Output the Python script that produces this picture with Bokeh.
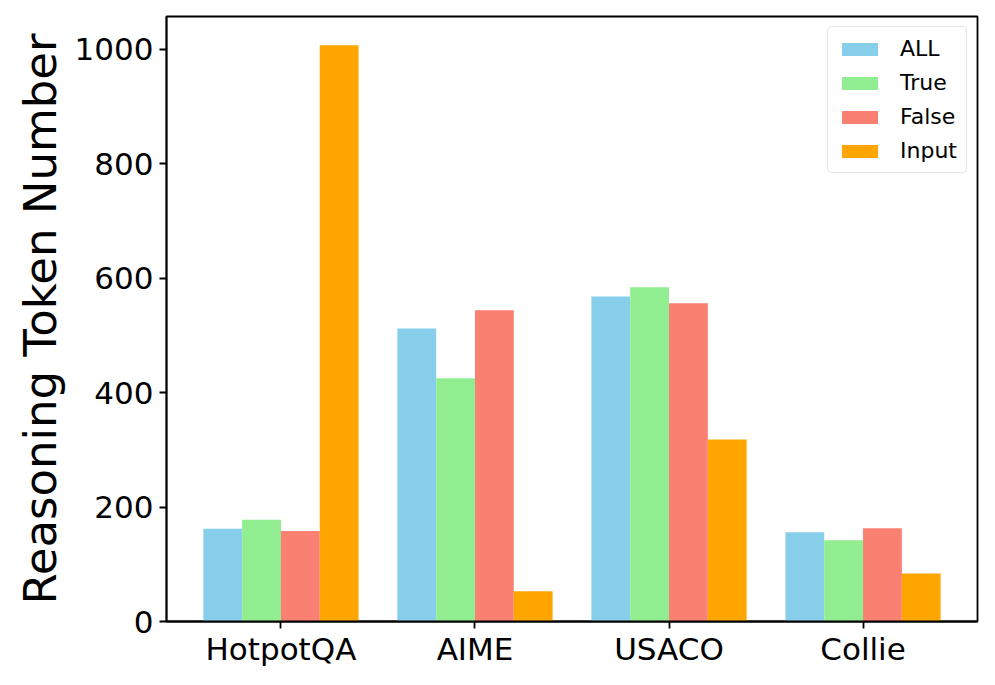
from bokeh.plotting import figure
from bokeh.models import Range1d, FixedTicker, Legend, LegendItem, ColumnDataSource
from bokeh.embed import file_html
from bokeh.resources import INLINE

categories = ["HotpotQA", "AIME", "USACO", "Collie"]
series_names = ["ALL", "True", "False", "Input"]
all_vals = [162, 512, 568, 156]
true_vals = [178, 425, 584, 142]
false_vals = [158, 544, 556, 163]
input_vals = [1007, 53, 318, 84]
colors = ["#87CEEB", "#90EE90", "#FA8072", "#FFA500"]
y_ticks = [0, 200, 400, 600, 800, 1000]

series = [all_vals, true_vals, false_vals, input_vals]
bar_w = 0.2
n = len(series)
idx = list(range(len(categories)))

left_edge = -(n / 2) * bar_w
right_edge = len(categories) - 1 + (n / 2) * bar_w
xpad = 0.05 * (right_edge - left_edge)
ymax = max(max(s) for s in series)

FONT = "DejaVu Sans"

p = figure(width=979, height=669, output_backend="svg", toolbar_location=None,
           x_range=Range1d(left_edge - xpad, right_edge + xpad),
           y_range=Range1d(0, ymax * 1.05),
           min_border_left=166, min_border_right=2, min_border_top=16, min_border_bottom=48)

renderers = []
for i, (name, vals, c) in enumerate(zip(series_names, series, colors)):
    off = (i - (n - 1) / 2) * bar_w
    src = ColumnDataSource(dict(x=[k + off for k in idx], top=vals))
    r = p.vbar(x="x", top="top", bottom=0, width=bar_w, source=src,
               fill_color=c, line_color=None)
    renderers.append((name, r))

p.xgrid.visible = False
p.ygrid.visible = False
p.outline_line_color = "black"
p.outline_line_width = 1.8
p.background_fill_color = "white"
p.border_fill_color = "white"

xa = p.xaxis[0]
xa.ticker = FixedTicker(ticks=idx)
xa.major_label_overrides = {k: c for k, c in zip(idx, categories)}
ya = p.yaxis[0]
ya.ticker = FixedTicker(ticks=y_ticks)
ya.axis_label = "Reasoning Token Number"

for ax in (xa, ya):
    ax.axis_line_width = 1.8
    ax.axis_line_color = "black"
    ax.major_tick_line_width = 1.8
    ax.major_tick_line_color = "black"
    ax.major_tick_in = 0
    ax.major_tick_out = 7
    ax.minor_tick_line_color = None
    ax.major_label_text_font = FONT
    ax.major_label_text_font_size = "31px"
    ax.major_label_text_color = "black"
    ax.major_label_standoff = 6
xa.major_label_standoff = 2

ya.axis_label_text_font = FONT
ya.axis_label_text_font_size = "45px"
ya.axis_label_text_font_style = "normal"
ya.axis_label_text_color = "black"
ya.axis_label_standoff = 5

legend = Legend(items=[LegendItem(label=nm, renderers=[r]) for nm, r in renderers],
                location="top_right")
legend.label_text_font = FONT
legend.label_text_font_size = "22px"
legend.label_text_color = "black"
legend.glyph_width = 45
legend.glyph_height = 16
legend.label_height = 16
legend.spacing = 9
legend.padding = 9
legend.margin = 10
legend.label_standoff = 18
legend.border_line_color = "#cccccc"
legend.border_line_width = 1.5
legend.background_fill_alpha = 0.8
legend.border_radius = 5
p.add_layout(legend)

open("out.html", "w").write(file_html(p, INLINE))
